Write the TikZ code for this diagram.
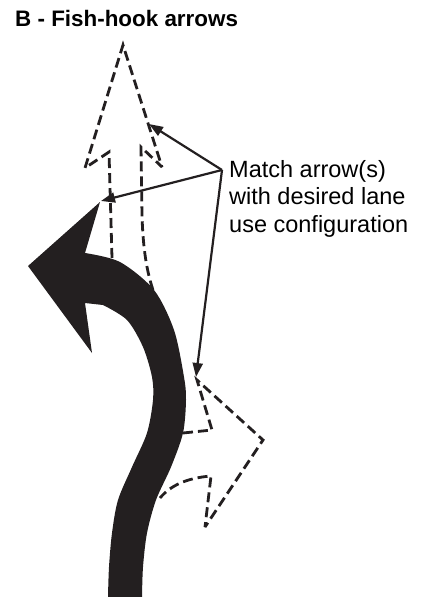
\documentclass[tikz,border=0pt]{standalone}
\usepackage{fontspec}
\setmainfont{Liberation Sans}
\usepackage{tikz}
\usetikzlibrary{arrows.meta}
\definecolor{ink}{HTML}{231F20}

\begin{document}
\begin{tikzpicture}[x=1pt,y=-1pt,
  outline/.style={draw=ink,line width=2.8pt,dash pattern=on 10pt off 5pt,miter limit=4},
  leader/.style={draw=ink,line width=2.2pt,-{Triangle[length=14pt,width=10pt]}}]
  \useasboundingbox (0,0) rectangle (423,597);

  % title
  \node[anchor=base west,inner sep=0pt,font=\fontsize{22.4}{26}\selectfont\bfseries]
    (title) at (15,27) {B - Fish-hook arrows};

  % solid fish-hook arrow (stem, bend, head)
  \fill[ink] plot[smooth] coordinates {(142,597) (143,567) (147,533) (156,500)
      (171,467) (183,433) (186,400) (184,377) (174,330) (154,290) (120,262) (85,253)}
    -- (100,202) -- (28,266) -- (92,353) -- (85,303)
    -- plot[smooth] coordinates {(103,305) (127,320) (143,347) (152,377)
      (153,400) (147,433) (132,467) (118,500) (112,533) (109,567) (108,597)}
    -- cycle;

  % dashed alternative: through arrow
  \draw[outline] (112,258) -- (109,152) -- (85,168) -- (123,45) -- (162,167)
    -- (141,147) -- (142,215) .. controls (143,250) and (147,272) .. (153,290);
  % dashed alternative: right turn
  \draw[outline] (183,433) -- (212,430) -- (197,380) -- (263,440) -- (205,527)
    -- (211,476) .. controls (186,478) and (170,486) .. (160,498);

  % note and leaders
  \node[anchor=base west,inner sep=0pt,align=left,
    font=\fontsize{23.5}{27.5}\selectfont] (note) at (229,232)
    {Match arrow(s)\\with desired lane\\use configuration};
  \coordinate (lead) at (222,170);
  \coordinate (tipthru) at (149,124);
  \coordinate (tiphook) at (101,201);
  \coordinate (tipright) at (196,377);
  \draw[leader] (lead) -- (tipthru);
  \draw[leader] (lead) -- (tiphook);
  \draw[leader] (lead) -- (tipright);
\end{tikzpicture}
\end{document}
